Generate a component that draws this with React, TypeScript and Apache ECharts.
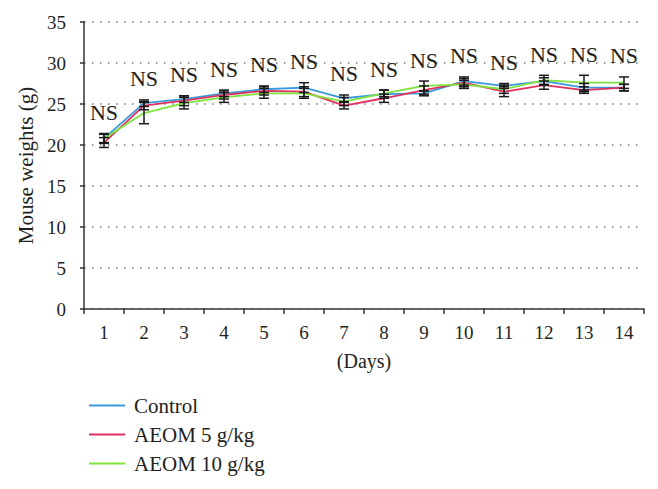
import React, { useEffect, useRef } from "react";
import * as echarts from "echarts";

const days = ["1", "2", "3", "4", "5", "6", "7", "8", "9", "10", "11", "12", "13", "14"];
const controlMean = [20.8, 25.1, 25.6, 26.3, 26.8, 27.0, 25.7, 26.2, 26.3, 27.8, 27.2, 27.8, 27.0, 27.0];
const controlSd = [0.6, 0.4, 0.4, 0.4, 0.4, 0.6, 0.4, 0.5, 0.3, 0.5, 0.3, 0.4, 0.5, 0.4];
const aeom5Mean = [20.3, 24.8, 25.4, 26.1, 26.6, 26.5, 24.8, 25.7, 26.7, 27.6, 26.5, 27.3, 26.7, 27.0];
const aeom5Sd = [0.6, 0.5, 0.6, 0.5, 0.5, 0.6, 0.4, 0.5, 0.5, 0.5, 0.6, 0.5, 0.4, 0.4];
const aeom10Mean = [20.8, 23.9, 25.1, 25.8, 26.3, 26.3, 25.3, 26.3, 27.2, 27.4, 26.8, 27.9, 27.6, 27.6];
const aeom10Sd = [0.5, 1.3, 0.7, 0.6, 0.6, 0.6, 0.5, 0.4, 0.6, 0.5, 0.5, 0.6, 0.9, 0.7];
const sigLabels = ["NS", "NS", "NS", "NS", "NS", "NS", "NS", "NS", "NS", "NS", "NS", "NS", "NS", "NS"];
const seriesNames = ["Control", "AEOM 5 g/kg", "AEOM 10 g/kg"];
const colors = ["#3a9ad9", "#e0305e", "#7ee33c"];

const FONT = "'Liberation Serif', 'Times New Roman', serif";
const INK = "#231f20";

function errData(mean: number[], sd: number[]) {
  return mean.map((m, i) => [i, m - sd[i], m + sd[i]]);
}

function renderErr(params: any, api: any) {
  const x = api.value(0);
  const lo = api.coord([x, api.value(1)]);
  const hi = api.coord([x, api.value(2)]);
  const cap = 5;
  const style = { stroke: "#1a1a1a", lineWidth: 1.5 };
  return {
    type: "group",
    children: [
      { type: "line", shape: { x1: lo[0], y1: lo[1], x2: hi[0], y2: hi[1] }, style },
      { type: "line", shape: { x1: lo[0] - cap, y1: lo[1], x2: lo[0] + cap, y2: lo[1] }, style },
      { type: "line", shape: { x1: hi[0] - cap, y1: hi[1], x2: hi[0] + cap, y2: hi[1] }, style },
    ],
  };
}

export default function App() {
  const ref = useRef<HTMLDivElement>(null);
  useEffect(() => {
    if (!ref.current) return;
    const chart = echarts.init(ref.current, null, { renderer: "svg" });
    const tops = days.map((_, i) =>
      Math.max(controlMean[i] + controlSd[i], aeom5Mean[i] + aeom5Sd[i], aeom10Mean[i] + aeom10Sd[i])
    );
    const means = [controlMean, aeom5Mean, aeom10Mean];
    const sds = [controlSd, aeom5Sd, aeom10Sd];
    chart.setOption({
      animation: false,
      backgroundColor: "#ffffff",
      grid: { left: 84, right: 14, top: 22, bottom: 180, containLabel: false },
      legend: {
        orient: "vertical",
        left: 84,
        top: 390,
        itemWidth: 36,
        itemHeight: 2,
        itemGap: 8,
        icon: "rect",
        data: seriesNames,
        textStyle: { fontFamily: FONT, fontSize: 21, color: INK, padding: [0, 0, 0, 4] },
      },
      xAxis: {
        type: "category",
        data: days,
        boundaryGap: true,
        name: "(Days)",
        nameLocation: "middle",
        nameGap: 42,
        nameTextStyle: { fontFamily: FONT, fontSize: 20, color: INK },
        axisLine: { lineStyle: { color: "#333333", width: 1.5 } },
        axisTick: { show: true, length: 5, lineStyle: { color: "#333333", width: 1.5 } },
        axisLabel: { fontFamily: FONT, fontSize: 19, color: INK, margin: 14 },
        splitLine: { show: false },
      },
      yAxis: {
        type: "value",
        min: 0,
        max: 35,
        interval: 5,
        name: "Mouse weights (g)",
        nameLocation: "middle",
        nameGap: 48,
        nameTextStyle: { fontFamily: FONT, fontSize: 21, color: INK },
        axisLine: { show: true, lineStyle: { color: "#333333", width: 1.5 } },
        axisTick: { show: true, length: 4, lineStyle: { color: "#333333", width: 1.5 } },
        axisLabel: { fontFamily: FONT, fontSize: 19, color: INK, margin: 18 },
        splitLine: { show: true, lineStyle: { color: "#777777", width: 1.5, type: [1.5, 6.5] } },
      },
      series: [
        ...seriesNames.map((name, k) => ({
          name,
          type: "line",
          data: means[k],
          symbol: "none",
          color: colors[k],
          lineStyle: { color: colors[k], width: 1.8 },
          z: 2 + k,
        })),
        ...seriesNames.map((name, k) => ({
          type: "custom",
          name: name + " err",
          data: errData(means[k], sds[k]),
          renderItem: renderErr,
          z: 10,
          silent: true,
        })),
        {
          type: "scatter",
          name: "sig",
          data: tops,
          symbolSize: 0,
          silent: true,
          itemStyle: { opacity: 1 },
          label: {
            show: true,
            position: "top",
            distance: 10,
            formatter: (p: any) => sigLabels[p.dataIndex],
            fontFamily: FONT,
            fontSize: 22,
            color: INK,
          },
          z: 12,
        },
      ],
    });
    return () => chart.dispose();
  }, []);
  return (
    <div
      ref={ref}
      style={{ position: "fixed", left: 0, top: 0, width: 658, height: 489 }}
    />
  );
}
